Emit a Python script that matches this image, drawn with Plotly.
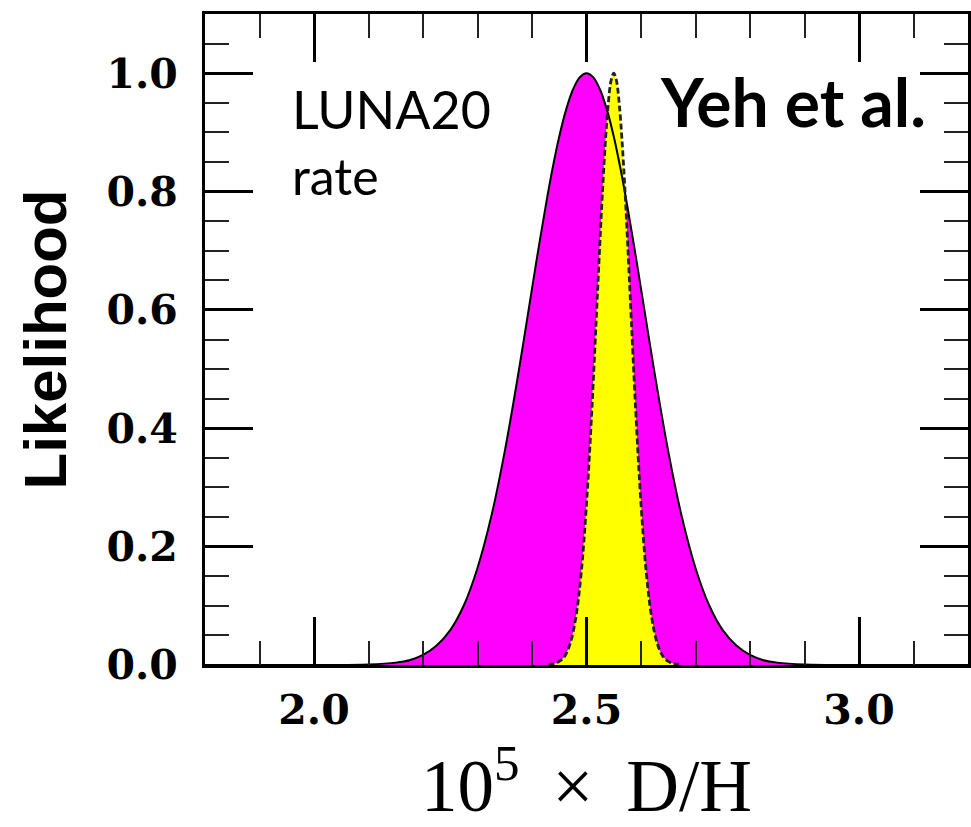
import plotly.graph_objects as go

# Magenta (LUNA20 rate) likelihood
dh_magenta = [1.80, 2.00, 2.10, 2.15, 2.175, 2.20, 2.225, 2.25, 2.275, 2.30, 2.325, 2.35,
              2.375, 2.40, 2.4125, 2.425, 2.4375, 2.45, 2.4625, 2.475, 2.4875, 2.50,
              2.5125, 2.525, 2.5375, 2.55, 2.5625, 2.575, 2.5875, 2.60, 2.625,
              2.65, 2.675, 2.70, 2.725, 2.75, 2.775, 2.80, 2.825, 2.85, 2.90, 3.00, 3.20]
like_magenta = [0, 0, 0.001, 0.004, 0.008, 0.017, 0.033, 0.059, 0.101, 0.164, 0.250, 0.361,
                0.493, 0.636, 0.707, 0.775, 0.838, 0.893, 0.938, 0.972, 0.993, 1.0,
                0.993, 0.972, 0.938, 0.893, 0.838, 0.775, 0.707, 0.636, 0.493,
                0.361, 0.250, 0.164, 0.101, 0.059, 0.033, 0.017, 0.008, 0.004, 0.001, 0, 0]

# Yellow (observational) likelihood
dh_yellow = [2.43, 2.44, 2.45, 2.46, 2.47, 2.48, 2.49, 2.50, 2.51, 2.52, 2.525, 2.53, 2.535,
             2.54, 2.545, 2.55, 2.555, 2.56, 2.565, 2.57, 2.575, 2.58, 2.59, 2.60, 2.61,
             2.62, 2.63, 2.64, 2.65, 2.66, 2.67]
like_yellow = [0.001, 0.002, 0.006, 0.015, 0.036, 0.078, 0.153, 0.272, 0.435, 0.626, 0.722,
               0.812, 0.889, 0.949, 0.987, 1.0, 0.987, 0.949, 0.889, 0.812, 0.722, 0.626,
               0.435, 0.272, 0.153, 0.078, 0.036, 0.015, 0.006, 0.002, 0.001]

fig = go.Figure()
fig.add_trace(go.Scatter(x=dh_magenta, y=like_magenta, mode="lines", fill="tozeroy",
                         fillcolor="#FF00FF", line=dict(width=0, shape="spline", smoothing=1.0),
                         hoverinfo="skip", showlegend=False))
fig.add_trace(go.Scatter(x=dh_yellow, y=like_yellow, mode="lines", fill="tozeroy",
                         fillcolor="#FFFF00", line=dict(width=0, shape="spline", smoothing=1.0),
                         hoverinfo="skip", showlegend=False))
fig.add_trace(go.Scatter(x=dh_magenta, y=like_magenta, mode="lines",
                         line=dict(color="black", width=2, shape="spline", smoothing=1.0),
                         hoverinfo="skip", showlegend=False))
fig.add_trace(go.Scatter(x=dh_yellow, y=like_yellow, mode="lines",
                         line=dict(color="#222", width=2.8, dash="6px,3px", shape="spline",
                                   smoothing=1.0),
                         hoverinfo="skip", showlegend=False))

tickfont = dict(family="DejaVu Serif", size=41, color="black", weight="bold")

fig.update_xaxes(range=[1.8, 3.2], tick0=2.0, dtick=0.5, tickformat=".1f",
                 ticks="inside", ticklen=48, tickwidth=3, tickcolor="black",
                 mirror="allticks", showline=True, linewidth=3, linecolor="black",
                 showgrid=False, zeroline=False, tickfont=tickfont, ticklabelstandoff=7,
                 minor=dict(tick0=2.0, dtick=0.1, ticks="inside", ticklen=24, tickwidth=2,
                            tickcolor="#222", showgrid=False),
                 title=dict(text="10<sup>5</sup>\u2009 × \u2009D/H",
                            font=dict(family="Liberation Serif", size=73, color="black"),
                            standoff=0))
fig.update_yaxes(range=[0, 1.1], tick0=0, dtick=0.2, tickformat=".1f",
                 ticks="inside", ticklen=48, tickwidth=3, tickcolor="black",
                 mirror="allticks", showline=True, linewidth=3, linecolor="black",
                 showgrid=False, zeroline=False, tickfont=tickfont, ticklabelstandoff=16,
                 minor=dict(tick0=0, dtick=0.05, ticks="inside", ticklen=24, tickwidth=2,
                            tickcolor="#222", showgrid=False),
                 title=dict(text="<b>Likelihood</b>",
                            font=dict(family="Liberation Sans", size=60, color="black"),
                            standoff=21))

fig.add_annotation(x=0.111, y=0.904, xref="paper", yref="paper", xanchor="left", yanchor="top",
                   text="LUNA20", showarrow=False,
                   font=dict(family="Lato", size=52, color="black"))
fig.add_annotation(x=0.111, y=0.80, xref="paper", yref="paper", xanchor="left", yanchor="top",
                   text="rate", showarrow=False,
                   font=dict(family="Lato", size=50, color="black"))
fig.add_annotation(x=0.948, y=0.93, xref="paper", yref="paper", xanchor="right", yanchor="top",
                   text="<b>Yeh et al.</b>", showarrow=False,
                   font=dict(family="Lato", size=66, color="black"))

fig.update_layout(width=971, height=827, margin=dict(l=205, r=0, t=14, b=162),
                  plot_bgcolor="white", paper_bgcolor="white")

fig.write_html("out.html")
